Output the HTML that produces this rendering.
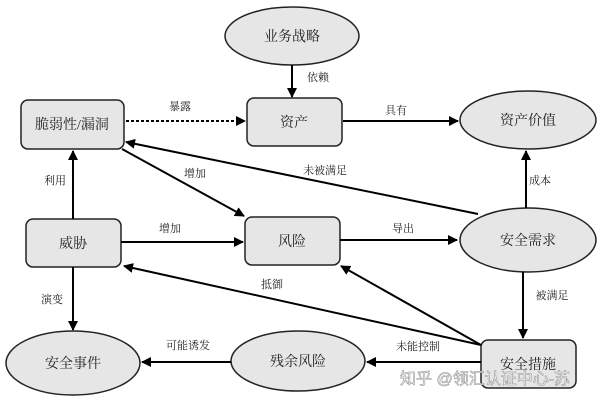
<!DOCTYPE html>
<html><head><meta charset="utf-8"><style>
html,body{margin:0;padding:0;background:#fff;}
svg text{font-family:"Liberation Serif","Noto Serif CJK SC",serif;fill:#222;}
</style></head><body>
<svg width="600" height="400" viewBox="0 0 600 400" xmlns="http://www.w3.org/2000/svg">
<defs>
<marker id="a" markerWidth="10" markerHeight="10" refX="9" refY="5" orient="auto" markerUnits="userSpaceOnUse">
<path d="M0,0 L10,5 L0,10 z" fill="#000"/></marker>
</defs>
<g fill="#e6e6e6" stroke="#222" stroke-width="1.5">
<ellipse cx="292" cy="36" rx="67" ry="29"/>
<rect x="247" y="98" width="95" height="48" rx="7"/>
<rect x="21" y="100" width="103" height="49" rx="7"/>
<ellipse cx="528" cy="120" rx="68" ry="29"/>
<rect x="26" y="219" width="95" height="48" rx="7"/>
<rect x="245" y="217" width="95" height="48" rx="7"/>
<ellipse cx="528" cy="240" rx="68" ry="32"/>
<rect x="481" y="340" width="95" height="48" rx="7"/>
<ellipse cx="73" cy="363" rx="67" ry="32"/>
<ellipse cx="298" cy="361" rx="67" ry="30"/>
</g>
<g stroke="#000" stroke-width="2" fill="none" marker-end="url(#a)">
<line x1="292" y1="65" x2="292" y2="97"/>
<line x1="126" y1="121" x2="245" y2="121" stroke-dasharray="3,2"/>
<line x1="343" y1="121" x2="458" y2="121"/>
<line x1="526" y1="208" x2="526" y2="151"/>
<line x1="73" y1="219" x2="73" y2="151"/>
<line x1="122" y1="149" x2="244" y2="216"/>
<line x1="478" y1="214" x2="126" y2="142"/>
<line x1="121" y1="242" x2="243" y2="242"/>
<line x1="340" y1="240" x2="457" y2="240"/>
<line x1="523" y1="272" x2="523" y2="338"/>
<line x1="481" y1="345" x2="124" y2="266"/>
<line x1="481" y1="345" x2="341" y2="266"/>
<line x1="73" y1="267" x2="73" y2="330"/>
<line x1="481" y1="362" x2="367" y2="362"/>
<line x1="231" y1="362" x2="142" y2="362"/>
</g>
<g font-size="14" text-anchor="middle">
<text x="292" y="41">业务战略</text>
<text x="294" y="127">资产</text>
<text x="72" y="129">脆弱性/漏洞</text>
<text x="528" y="125">资产价值</text>
<text x="73" y="248">威胁</text>
<text x="292" y="246">风险</text>
<text x="528" y="245">安全需求</text>
<text x="528" y="369">安全措施</text>
<text x="73" y="368">安全事件</text>
<text x="298" y="366">残余风险</text>
</g>
<g font-size="11" text-anchor="middle">
<text x="318" y="81">依赖</text>
<text x="180" y="110">暴露</text>
<text x="396" y="114">具有</text>
<text x="540" y="184">成本</text>
<text x="55" y="184">利用</text>
<text x="195" y="177">增加</text>
<text x="325" y="174">未被满足</text>
<text x="170" y="232">增加</text>
<text x="403" y="232">导出</text>
<text x="552" y="299">被满足</text>
<text x="272" y="288">抵御</text>
<text x="52" y="303">演变</text>
<text x="418" y="350">未能控制</text>
<text x="188" y="349">可能诱发</text>
</g>
<text x="400" y="384" font-size="16" style="font-family:'Liberation Sans','Noto Sans CJK SC',sans-serif;fill:#fff;stroke:#999;stroke-width:0.6">知乎 @领汇认证中心-苏</text>
</svg>
</body></html>
